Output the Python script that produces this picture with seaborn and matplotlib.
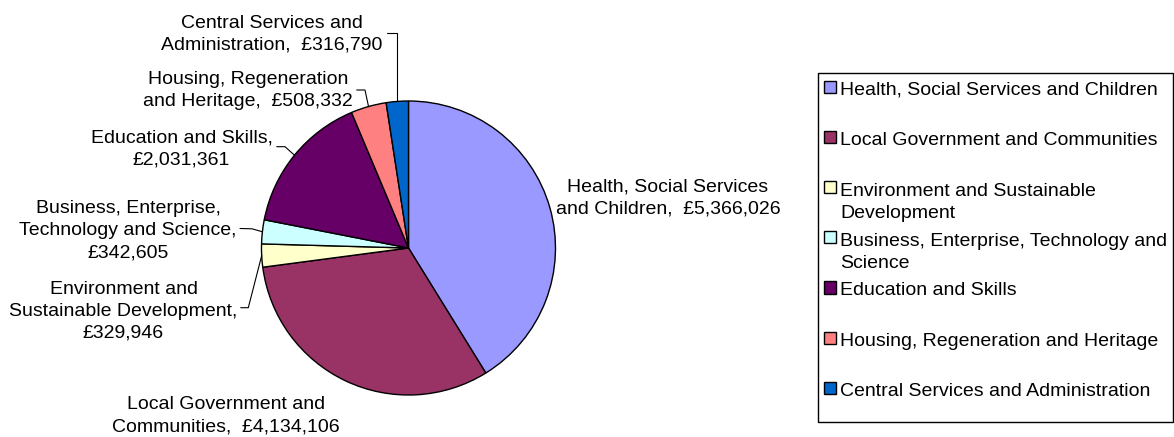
import matplotlib
matplotlib.use("Agg")
import matplotlib.pyplot as plt
from matplotlib.patches import Rectangle
import numpy as np
import seaborn as sns

# ---------------- data ----------------
categories = [
    "Health, Social Services and Children",
    "Local Government and Communities",
    "Environment and Sustainable Development",
    "Business, Enterprise, Technology and Science",
    "Education and Skills",
    "Housing, Regeneration and Heritage",
    "Central Services and Administration",
]
values = [5366026, 4134106, 329946, 342605, 2031361, 508332, 316790]
colors = ["#9999FF", "#993366", "#FFFFCC", "#CCFFFF", "#660066", "#FF8080", "#0066CC"]

# wrapped text of the data labels, and the separator placed before the value
label_names = [
    "Health, Social Services\nand Children",
    "Local Government and\nCommunities",
    "Environment and\nSustainable Development",
    "Business, Enterprise,\nTechnology and Science",
    "Education and Skills",
    "Housing, Regeneration\nand Heritage",
    "Central Services and\nAdministration",
]
label_seps = [",  ", ",  ", ",\n", ",\n", ",\n", ",  ", ",  "]
legend_names = [
    "Health, Social Services and Children",
    "Local Government and Communities",
    "Environment and Sustainable\nDevelopment",
    "Business, Enterprise, Technology and\nScience",
    "Education and Skills",
    "Housing, Regeneration and Heritage",
    "Central Services and Administration",
]

# ---------------- layout (pixel units) ----------------
W, H = 1174, 437
def Y(y):
    return H - y

sns.set_theme(style="white")
plt.rcParams["font.family"] = ["Liberation Sans", "DejaVu Sans"]
FS = 14
LS = 1.38
LINE = 23.0  # pixel pitch between text lines

fig = plt.figure(figsize=(W / 100, H / 100), dpi=100)
ax = fig.add_axes([0, 0, 1, 1])

pal = sns.color_palette(colors)
cx, cy, R = 408.5, 248.0, 147.0
wedges, _ = ax.pie(values, colors=pal, startangle=90, counterclock=False,
                   center=(cx, Y(cy)), radius=R,
                   wedgeprops=dict(edgecolor="black", linewidth=1.0))
ax.set_xlim(0, W)
ax.set_ylim(0, H)
ax.set_aspect("equal")
ax.axis("off")

# data label positions: (center x, first baseline y)
label_pos = [(668, 190.5), (226, 408), (123.5, 292), (128, 211),
             (181.5, 141.5), (248.3, 83.3), (271.5, 26.7)]
# leader line points (label side), None = no leader
leaders = [None, None,
           [(240.7, 307.7), (248.3, 307.7)],
           [(240.0, 228.5), (252.0, 228.8)],
           [(276.7, 146.7), (285.0, 146.7)],
           [(356.7, 90.0), (365.0, 90.0)],
           [(387.0, 33.3), None]]


def put_text(x, y_first, s, **kw):
    # matplotlib's "baseline" aligns the last line; shift by the line count
    n = s.count("\n")
    ax.text(x, Y(y_first + n * LINE), s, va="baseline", fontsize=FS,
            linespacing=LS, color="black", **kw)


for i, w in enumerate(wedges):
    txt = label_names[i] + label_seps[i] + "£{:,}".format(values[i])
    x, y = label_pos[i]
    put_text(x, y, txt, ha="center", multialignment="center")
    if leaders[i] is not None:
        th = np.deg2rad((w.theta1 + w.theta2) / 2)
        px, py = w.center[0] + R * np.cos(th), w.center[1] + R * np.sin(th)
        p0, p1 = leaders[i]
        if p1 is None:
            p1 = (px, p0[1])
        xs = [p0[0], p1[0], px]
        ys = [Y(p0[1]), Y(p1[1]), py]
        ax.plot(xs, ys, color="black", lw=0.8, solid_joinstyle="miter")

# ---------------- legend ----------------
ax.add_patch(Rectangle((817.5, Y(422.3)), 1172.5 - 817.5, 422.3 - 72.7,
                       facecolor="white", edgecolor="black", lw=1.0))
leg_y = [87, 137, 187, 237, 287.5, 338, 388]
for i in range(len(categories)):
    yc = leg_y[i]
    ax.add_patch(Rectangle((823.5, Y(yc + 6.2)), 12.4, 12.4,
                           facecolor=pal[i], edgecolor="black", lw=1.0))
    put_text(840, yc + 7.8, legend_names[i], ha="left")

fig.savefig("out.png", dpi=100)
